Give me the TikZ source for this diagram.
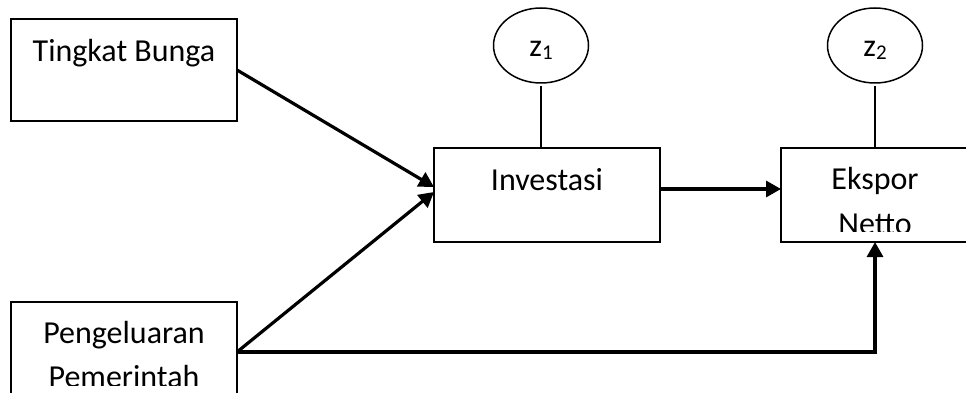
\documentclass[tikz,border=0pt]{standalone}
\usepackage{fontspec}
\setmainfont{Carlito}
\usetikzlibrary{arrows.meta,shapes.geometric,calc}
\begin{document}
\begin{tikzpicture}[x=1pt,y=-1pt,
  box/.style={draw,line width=1.5pt,rectangle,inner sep=0pt,outer sep=0pt,anchor=north west},
  latent/.style={draw,line width=1.5pt,ellipse,inner sep=0pt,outer sep=0pt,
    minimum width=95pt,minimum height=75pt},
  lbl/.style={inner sep=0pt,anchor=base,font=\fontsize{32}{44}\selectfont},
  path/.style={line width=3.2pt,-{Triangle[length=15pt,width=16pt]}},
  link/.style={line width=1.5pt,shorten <=3pt}]
\clip (0,0) rectangle (966,393);
\fill[white] (0,0) rectangle (966,393);

% variable boxes
\node[box,minimum width=226pt,minimum height=102pt] (tb) at (11,19) {};
\node[box,minimum width=226pt,minimum height=94pt] (inv) at (434,148) {};
\node[box,minimum width=188pt,minimum height=94pt] (ek) at (781,148) {};
\node[box,minimum width=226pt,minimum height=100pt] (pg) at (11,302) {};

% disturbance terms
\node[latent] (z1) at (541,45.5) {};
\node[latent] (z2) at (875,45.5) {};
\node[lbl] (z1t) at (541,57) {z\raisebox{-3pt}{\fontsize{21}{21}\selectfont 1}};
\node[lbl] (z2t) at (875,57) {z\raisebox{-3pt}{\fontsize{21}{21}\selectfont 2}};

% box labels
\node[lbl] (tbt) at (124,62) {Tingkat Bunga};
\node[lbl] (invt) at (547,190) {Investasi};
\begin{scope}
  \clip (781,148) rectangle (969,231);
  \node[lbl] (ekt1) at (875,189) {Ekspor};
  \node[lbl] (ekt2) at (875,234) {Netto};
\end{scope}
\begin{scope}
  \clip (11,302) rectangle (237,385);
  \node[lbl] (pgt1) at (124,343) {Pengeluaran};
  \node[lbl] (pgt2) at (124,387) {Pemerintah};
\end{scope}

% disturbance links
\draw[link] (z1.south) -- (z1.south |- inv.north);
\draw[link] (z2.south) -- (z2.south |- ek.north);

% causal paths
\draw[path] (tb.east) -- ($(inv.west)+(0,-8)$);
\draw[path] (pg.east) -- ($(inv.west)+(0,-3)$);
\draw[path] ($(inv.east)+(0,-6)$) -- ($(ek.west)+(0,-6)$);
\draw[path] (pg.east) -| (ek.south);
\end{tikzpicture}
\end{document}
